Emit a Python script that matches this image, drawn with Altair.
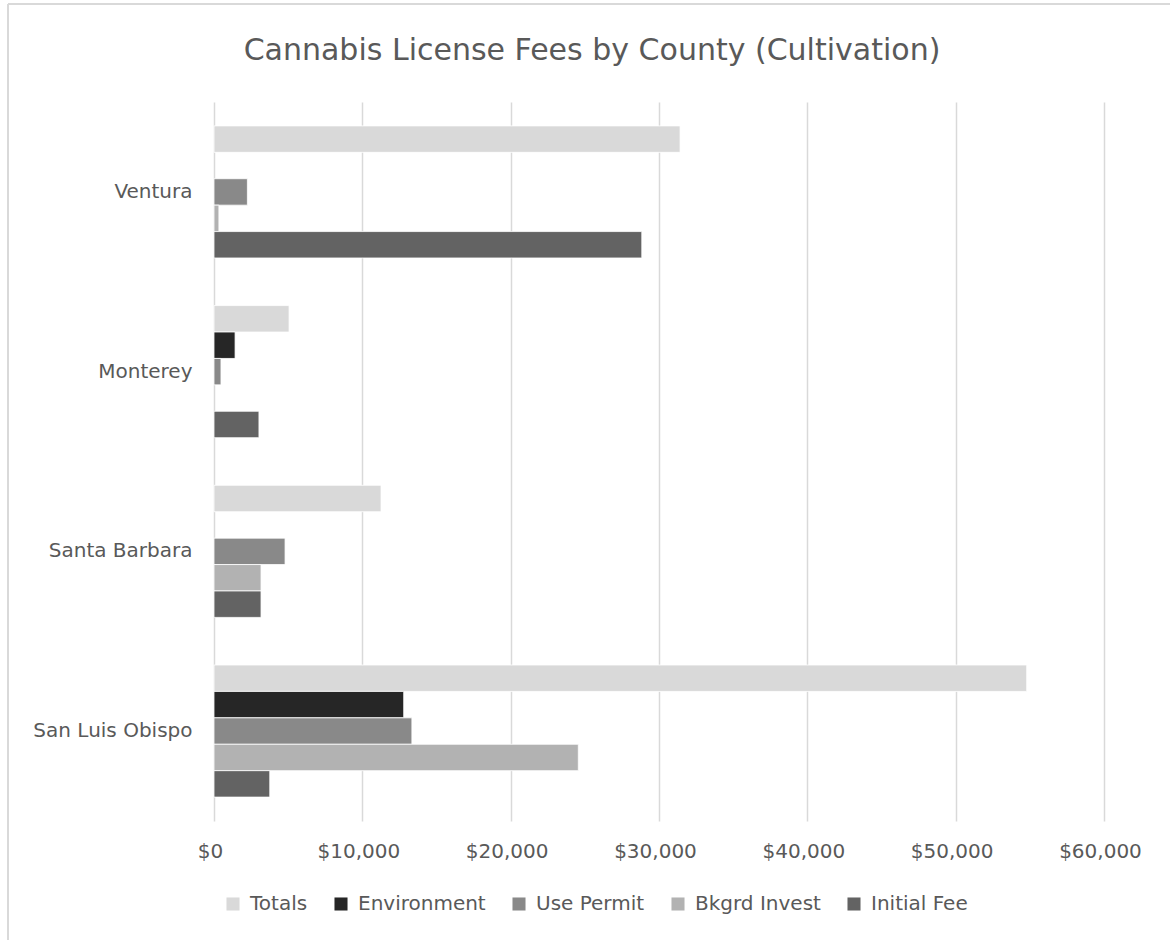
import altair as alt
import pandas as pd

counties = ["Ventura", "Monterey", "Santa Barbara", "San Luis Obispo"]
series = ["Totals", "Environment", "Use Permit", "Bkgrd Invest", "Initial Fee"]
colors = ["#d9d9d9", "#262626", "#898989", "#b2b2b2", "#636363"]

totals = [31420, 5060, 11260, 54790]
environment = [0, 1420, 0, 12790]
use_permit = [2250, 470, 4790, 13340]
bkgrd_invest = [330, 0, 3170, 24560]
initial_fee = [28840, 3030, 3170, 3760]

cols = [totals, environment, use_permit, bkgrd_invest, initial_fee]
rows = []
for ci, c in enumerate(counties):
    for si, s in enumerate(series):
        rows.append({"county": c, "series": s, "value": cols[si][ci]})
df = pd.DataFrame(rows)

FONT = "DejaVu Sans"
TXT = "#595959"

bars = alt.Chart(df).transform_filter("datum.value > 0").mark_bar(
    stroke="white", strokeWidth=0.8
).encode(
    y=alt.Y("county:N", sort=counties, title=None,
            scale=alt.Scale(paddingInner=0.265, paddingOuter=0.133),
            axis=alt.Axis(domain=False, ticks=False, labelFontSize=20,
                          labelColor=TXT, labelFont=FONT, labelPadding=22)),
    yOffset=alt.YOffset("series:N", sort=series,
                        scale=alt.Scale(domain=series, paddingInner=0, paddingOuter=0)),
    x=alt.X("value:Q", title=None,
            scale=alt.Scale(domain=[0, 60000], nice=False),
            axis=alt.Axis(values=[0, 10000, 20000, 30000, 40000, 50000, 60000],
                          format="$,.0f", domain=False, ticks=False, labelFlush=False,
                          labelFontSize=20, labelColor=TXT, labelFont=FONT,
                          labelPadding=20, labelOffset=-4,
                          gridColor="#d9d9d9", gridWidth=1.5)),
    color=alt.Color("series:N", sort=series,
                    scale=alt.Scale(domain=series, range=colors),
                    legend=alt.Legend(title=None, orient="none", direction="horizontal",
                                      legendX=9, legendY=792, symbolType="square",
                                      symbolSize=170, symbolStrokeWidth=0,
                                      labelFontSize=20, labelColor=TXT, labelFont=FONT,
                                      labelOffset=7, columnPadding=23)),
)

border_left = alt.Chart(df).mark_rule(color="#d9d9d9", strokeWidth=2).encode(
    x=alt.value(-206), y=alt.value(-98), y2=alt.value(840)
)
border_top = alt.Chart(df).mark_rule(color="#d9d9d9", strokeWidth=2).encode(
    x=alt.value(-206), x2=alt.value(960), y=alt.value(-98)
)

chart = alt.layer(border_left, border_top, bars).properties(
    width=890, height=719,
    background="white",
    autosize=alt.AutoSizeParams(type="none"),
    padding={"left": 214, "top": 102, "right": 66, "bottom": 119},
    title=alt.TitleParams("Cannabis License Fees by County (Cultivation)",
                          fontSize=30, font=FONT, color=TXT, fontWeight="normal",
                          anchor="middle", frame="group", dx=-67, offset=-87,
                          baseline="alphabetic"),
).configure_view(strokeWidth=0, stroke="transparent")

chart.save("out.html", embed_options={"renderer": "svg", "actions": False})
